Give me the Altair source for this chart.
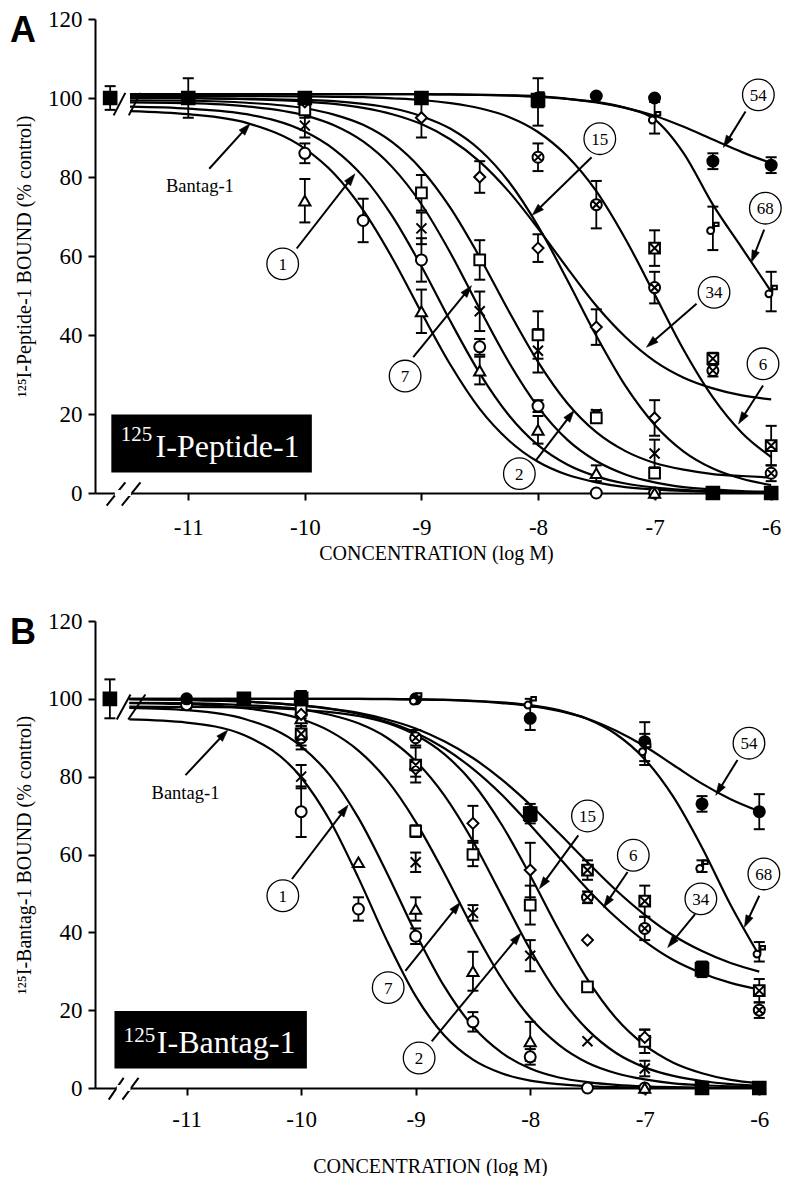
import math
import altair as alt
import pandas as pd

FONT = "Liberation Serif"
XMIN, XMAX = -11.8, -5.95
YMIN, YMAX = 0, 120

# ---------------- fitted curves ----------------
CURVE_X = [-11.5, -11, -10.5, -10, -9.75, -9.5, -9.25, -9, -8.75, -8.5,
           -8.25, -8, -7.75, -7.5, -7.25, -7, -6.75, -6.5, -6.25, -6]

A_CURVES = {
    "Bantag-1": [96.7, 95.9, 93.7, 87.2, 80.9, 71.6, 59.5, 45.7, 32.4, 21.3, 13.3, 7.9, 4.6, 2.7, 1.5, 0.9, 0.5, 0.3, 0.2, 0.1],
    "1": [97.8, 97.3, 95.9, 91.5, 87.0, 80.1, 70.1, 57.4, 43.4, 30.3, 19.7, 12.1, 7.2, 4.2, 2.4, 1.4, 0.8, 0.4, 0.2, 0.1],
    "7": [98.9, 98.7, 97.9, 95.6, 93.1, 89.0, 82.5, 73.1, 60.7, 46.6, 33.1, 21.8, 13.5, 8.1, 4.7, 2.7, 1.5, 0.9, 0.5, 0.3],
    "2": [99.4, 99.3, 98.8, 97.4, 95.8, 93.2, 88.8, 81.9, 72.1, 59.7, 46.0, 33.2, 22.8, 15.4, 10.6, 7.6, 5.9, 4.8, 4.3, 3.9],
    "15": [100, 100, 99.8, 99.5, 99.2, 98.5, 97.4, 95.4, 92.2, 86.9, 78.8, 67.6, 54.0, 39.8, 27.1, 17.3, 10.5, 6.2, 3.6, 2.0],
    "34": [100, 99.9, 99.7, 99.1, 98.5, 97.5, 95.9, 93.4, 89.5, 83.9, 76.3, 67.0, 57.0, 47.4, 39.5, 33.4, 29.2, 26.5, 24.7, 23.7],
    "6": [100.5, 100.5, 100.5, 100.4, 100.3, 100.2, 99.9, 99.5, 98.7, 97.4, 95.2, 91.4, 85.3, 76.4, 64.3, 50.3, 36.2, 24.2, 15.2, 9.1],
    "68": [101, 101, 101, 101, 101, 101, 101, 101, 100.9, 100.8, 100.7, 100.5, 99.8, 99.0, 97.5, 94.6, 86.0, 73.0, 62.0, 51.0],
    "54": [101, 101, 101, 101, 101, 101, 101, 101, 100.9, 100.8, 100.6, 100.3, 99.8, 98.9, 97.5, 95.5, 92.7, 89.5, 86.3, 83.5],
}

B_CURVES = {
    "Bantag-1": [94.7, 93.9, 90.7, 79.8, 68.8, 54.0, 37.8, 23.6, 13.5, 7.3, 3.8, 1.9, 1.0, 0.5, 0.2, 0.1, 0, 0, 0, 0],
    "1": [97.7, 97.1, 94.9, 87.8, 80.4, 69.4, 55.2, 39.8, 26.1, 15.8, 9.1, 5.0, 2.7, 1.5, 0.8, 0.4, 0.2, 0.1, 0, 0],
    "7": [98.9, 98.6, 97.6, 94.8, 91.7, 86.7, 79.1, 68.4, 55.2, 41.0, 28.2, 18.1, 11.1, 6.5, 3.8, 2.2, 1.2, 0.7, 0.4, 0.2],
    "2": [99, 98.9, 98.4, 97.3, 95.9, 93.7, 90.0, 84.0, 75.2, 63.4, 49.5, 35.6, 23.8, 15.0, 9.0, 5.3, 3.1, 1.8, 1.0, 0.6],
    "15": [98, 97.9, 97.8, 97.2, 96.6, 95.6, 93.8, 90.7, 85.8, 78.3, 67.7, 54.6, 40.6, 27.9, 17.9, 11.0, 6.5, 3.8, 2.1, 1.2],
    "6": [99.9, 99.7, 99.3, 98.3, 97.5, 96.4, 94.7, 92.4, 89.1, 84.8, 79.3, 72.8, 65.5, 58.0, 50.8, 44.5, 39.2, 35.2, 32.1, 29.9],
    "34": [99.9, 99.7, 99.3, 98.3, 97.4, 96.1, 94.1, 91.3, 87.3, 82.0, 75.4, 67.6, 59.3, 51.1, 43.8, 37.7, 32.9, 29.5, 27.0, 25.3],
    "54": [100, 100, 100, 100, 100, 100, 99.9, 99.8, 99.7, 99.4, 98.9, 98.2, 96.9, 94.9, 91.8, 87.8, 83.0, 78.2, 74.2, 71.1],
    "68": [100, 100, 100, 100, 100, 100, 100, 99.9, 99.8, 99.5, 99.1, 98.4, 97.1, 94.8, 90.9, 84.5, 74.8, 61.8, 47.0, 34.0],
}

# ---------------- measured points: (x, y, sem) ----------------
A_POINTS = {
    "circle": ([-10, -9.5, -9, -8.5, -8, -7.5, -7, -6.5, -6], [86, 69, 59, 37, 22, 0, 0, 0, 0], [2.5, 5.5, 5.5, 2, 1.5, 0, 0, 0, 0]),
    "triangle": ([-10, -9, -8.5, -8, -7.5, -7, -6.5, -6], [74, 46, 31, 16, 5, 0, 0, 0], [5.5, 5.5, 3.5, 3.5, 2, 0, 0, 0]),
    "cross": ([-10, -9, -8.5, -8, -7.5, -7, -6.5, -6], [93, 67, 46, 36, 20, 10, 0, 0], [3, 4, 5, 5.5, 1, 3.5, 0, 0]),
    "square": ([-10, -9, -8.5, -8, -7.5, -7, -6.5, -6], [97, 76, 59, 40, 19, 5, 0, 0], [2, 4.5, 5, 6, 1, 1, 0, 0]),
    "diamond": ([-10, -9, -8.5, -8, -7.5, -7, -6.5, -6], [99, 95, 80, 62, 42, 19, 0, 0], [1, 5, 4, 3.5, 4.5, 4.5, 0, 0]),
    "ocross": ([-10, -9, -8, -7.5, -7, -6.5, -6], [100, 100, 85, 73, 52, 31, 5], [0, 0, 3.5, 6, 4, 1.5, 2]),
    "bcross": ([-10, -9, -8, -7, -6.5, -6], [100, 100, 99, 62, 34, 12], [0, 0, 6, 4.5, 1.5, 5]),
    "dot": ([-10, -9, -8, -7.5, -7, -6.5, -6], [100, 100, 100, 100.5, 100, 84, 83], [0, 0, 0, 0, 0, 2, 2]),
    "hook": ([-10, -9, -8, -7, -6.5, -6], [100, 100, 100, 95, 67, 51], [0, 0, 0, 4, 5.5, 5]),
    "blob": ([-11.67, -11, -10, -9, -8, -6.5, -6], [100, 100, 100, 100, 99.5, 0, 0], [3, 5, 0, 0, 0, 0, 0]),
}

B_POINTS = {
    "circle": ([-11, -10, -9.5, -9, -8.5, -8, -7.5, -7, -6.5, -6], [98.5, 71, 46, 39, 17, 8, 0, 0, 0, 0], [1, 6.5, 3, 2, 2.5, 2, 0, 0, 0, 0]),
    "triangle": ([-10, -9.5, -9, -8.5, -8, -7, -6.5, -6], [95, 58, 46, 30, 12, 0, 0, 0], [2, 0, 3, 5, 5, 0, 0, 0]),
    "cross": ([-10, -9, -8.5, -8, -7.5, -7, -6.5, -6], [80, 58, 45, 34, 12, 5, 0, 0], [3, 2.5, 2, 4, 0, 2, 0, 0]),
    "square": ([-10, -9, -8.5, -8, -7.5, -7, -6.5, -6], [97, 66, 60, 47, 26, 12, 0, 0], [2, 1.5, 3, 5, 0, 3, 0, 0]),
    "diamond": ([-10, -9, -8.5, -8, -7.5, -7, -6.5, -6], [96, 82, 68, 56, 38, 13, 0, 0], [2, 2, 4.5, 7, 0, 2, 0, 0]),
    "ocross": ([-10, -9, -8, -7.5, -7, -6.5, -6], [90, 90, 71, 49, 41, 30, 20], [3, 2, 2, 1.5, 3, 1.5, 2]),
    "bcross": ([-10, -9, -8, -7.5, -7, -6.5, -6], [91, 83, 70, 56, 48, 31, 25], [3, 4.5, 2, 2.5, 4, 1.5, 3]),
    "dot": ([-11, -10.5, -10, -9, -8, -7, -6.5, -6], [100, 100, 100.5, 100, 95, 89, 73, 71], [0, 0, 1.5, 0.5, 3, 5, 2, 4.5]),
    "hook": ([-10, -9, -8, -7, -6.5, -6], [100, 100, 99, 87, 57, 35], [0, 0, 1, 4, 1.5, 2.5]),
    "blob": ([-11.67, -10.5, -10, -8, -6.5, -6.5, -6], [100, 100, 100, 70.5, 30.5, 0, 0], [5, 0, 2, 0, 1.5, 0, 0]),
}

# ---------------- annotations: label, circle centre, arrow tail, arrow tip ----------------
A_LABELS = [
    ("1", -10.19, 58.0, -10.07, 61.9, -9.57, 80.8),
    ("7", -9.14, 29.6, -9.07, 34.4, -8.57, 52.5),
    ("2", -8.16, 4.9, -8.02, 8.2, -7.69, 20.9),
    ("15", -7.47, 89.7, -7.54, 85.0, -8.05, 70.3),
    ("34", -6.49, 50.8, -6.64, 47.9, -7.07, 36.9),
    ("6", -6.07, 32.7, -6.07, 27.2, -6.28, 17.5),
    ("54", -6.11, 100.8, -6.22, 96.6, -6.41, 87.5),
    ("68", -6.05, 72.1, -6.06, 66.7, -6.17, 58.4),
]
A_BANTAG = ("Bantag-1", -10.90, 77.6, -10.82, 82.1, -10.47, 93.5)

B_LABELS = [
    ("1", -10.16, 49.4, -10.08, 53.7, -9.59, 72.7),
    ("7", -9.24, 25.8, -9.09, 30.1, -8.61, 47.7),
    ("2", -8.97, 7.7, -8.86, 12.0, -8.08, 39.8),
    ("15", -7.50, 69.9, -7.58, 64.9, -7.92, 51.2),
    ("6", -7.10, 59.8, -7.15, 55.5, -7.36, 46.4),
    ("34", -6.51, 48.6, -6.56, 44.7, -6.80, 36.1),
    ("54", -6.09, 88.6, -6.19, 84.3, -6.38, 75.2),
    ("68", -5.96, 55.0, -6.00, 49.4, -6.13, 41.3),
]
B_BANTAG = ("Bantag-1", -11.01, 75.7, -11.01, 80.4, -10.64, 92.0)

# black boxes: rect (x1, x2, y1, y2), superscript (x, y), main text (x, y)
A_BOX = ((-11.66, -9.94, 5.2, 19.9), ("125", -11.58, 14.8), ("I-Peptide-1", -11.28, 9.1))
B_BOX = ((-11.63, -9.95, 5.0, 19.8), ("125", -11.55, 13.3), ("I-Bantag-1", -11.26, 9.0))

# axis-break slashes (x1, y1, x2, y2) and white gap on the x axis
A_SLASHES = [(-11.70, -3.2, -11.54, 2.7), (-11.57, -3.2, -11.41, 2.7),
             (-11.64, 95.6, -11.54, 101.3), (-11.51, 95.6, -11.41, 101.3)]
A_GAP = (-11.63, -11.49)
B_SLASHES = [(-11.68, -3.0, -11.55, 2.6), (-11.56, -3.0, -11.42, 2.6),
             (-11.61, 94.7, -11.49, 101.1), (-11.51, 94.7, -11.36, 101.1)]
B_GAP = (-11.61, -11.49)

SHAPES = {
    "circle": "circle",
    "triangle": "triangle-up",
    "cross": "M-1,-1L1,1M1,-1L-1,1",
    "square": "square",
    "diamond": "diamond",
    "ocross": "M-1,0A1,1,0,1,1,1,0A1,1,0,1,1,-1,0Z M-0.7,-0.7L0.7,0.7 M0.7,-0.7L-0.7,0.7",
    "bcross": "M-1,-1L1,-1L1,1L-1,1Z M-1,-1L1,1 M1,-1L-1,1",
    "dot": "circle",
    "hook": "M-1,0.4A0.6,0.6,0,1,1,0.2,0.4A0.6,0.6,0,1,1,-1,0.4Z M0.2,0.4L0.2,-1L1,-1L1,-0.4L0.2,-0.4",
    "blob": "square",
}
FILLS = {"dot": "black", "blob": "black"}
SIZES = {"blob": 160, "cross": 100, "triangle": 125, "circle": 121, "square": 115,
         "diamond": 121, "ocross": 121, "bcross": 115, "dot": 121, "hook": 130}
ARROW = "M0,0L0.55,1.7L-0.55,1.7Z"


def build_panel(curves, points, labels, bantag, box, slashes, gap, letter, ytitle,
                width, height, xlabpad, xtitlepad):
    sx = width / (XMAX - XMIN)
    sy = height / (YMAX - YMIN)
    xs = alt.Scale(domain=[XMIN, XMAX], nice=False, zero=False)
    ys = alt.Scale(domain=[YMIN, YMAX], nice=False, zero=False)
    common = dict(labelFont=FONT, labelFontSize=23, labelColor="black", titleFont=FONT,
                  titleFontWeight="normal", titleColor="black", tickColor="black",
                  domainColor="black", tickWidth=2, domainWidth=2, tickSize=7, grid=False,
                  labelFlush=False)
    xaxis = alt.Axis(values=[-11, -10, -9, -8, -7, -6], labelExpr="'-' + toString(abs(datum.value))",
                     title="CONCENTRATION (log M)", titleFontSize=20, labelPadding=xlabpad,
                     titlePadding=xtitlepad, **common)
    yaxis = alt.Axis(values=[0, 20, 40, 60, 80, 100, 120], format="d", title=ytitle,
                     titleFontSize=20, labelPadding=6, titlePadding=13, **common)

    def X(f="x"):
        return alt.X(f"{f}:Q", scale=xs, axis=xaxis)

    def Y(f="y"):
        return alt.Y(f"{f}:Q", scale=ys, axis=yaxis)

    crows = []
    for name, ys_ in curves.items():
        for xv, yv in zip(CURVE_X, ys_):
            crows.append({"curve": name, "x": xv, "y": yv})
    cdf = pd.DataFrame(crows)

    prows = []
    for kind, (xx, yy, ee) in points.items():
        for xv, yv, ev in zip(xx, yy, ee):
            prows.append({"kind": kind, "x": xv, "y": yv, "err": ev,
                          "lo": yv - ev, "hi": yv + ev,
                          "shp": SHAPES[kind], "fillc": FILLS.get(kind, "white"),
                          "sz": SIZES.get(kind, 110)})
    pdf = pd.DataFrame(prows)
    edf = pdf[pdf["err"] > 0]
    caps = pd.concat([edf.assign(cy=edf["lo"]), edf.assign(cy=edf["hi"])])[["x", "cy"]]

    arows = []
    for lab, cx, cy, tx, ty, hx, hy in list(labels) + [bantag]:
        dxp = (hx - tx) * sx
        dyp = -(hy - ty) * sy
        L = math.hypot(dxp, dyp)
        ang = math.degrees(math.atan2(dxp, -dyp)) % 360
        k = 10.0 / L
        arows.append({"lab": lab, "cx": cx, "cy": cy, "x": tx, "y": ty,
                      "hx": hx, "hy": hy, "ex": hx - (hx - tx) * k, "ey": hy - (hy - ty) * k,
                      "ang": ang})
    adf = pd.DataFrame(arows)
    ldf = adf[adf["lab"] != "Bantag-1"]
    bdf = adf[adf["lab"] == "Bantag-1"]

    sdf = pd.DataFrame([{"x": a, "y": b, "x2": c, "y2": d} for a, b, c, d in slashes])
    gdf = pd.DataFrame([{"x": gap[0], "x2": gap[1], "y": 0, "y2": 0}])
    (rx1, rx2, ry1, ry2), (sup, supx, supy), (main, mx, my) = box
    rdf = pd.DataFrame([{"x": rx1, "x2": rx2, "y": ry1, "y2": ry2}])
    supdf = pd.DataFrame([{"t": sup, "x": supx, "y": supy}])
    maindf = pd.DataFrame([{"t": main, "x": mx, "y": my}])
    letdf = pd.DataFrame([{"t": letter}])

    layers = [
        alt.Chart(cdf).mark_line(color="black", strokeWidth=2.2, interpolate="monotone")
        .encode(x=X(), y=Y(), detail="curve:N"),
        alt.Chart(edf).mark_rule(color="black", strokeWidth=1.8)
        .encode(x=X(), y=Y("lo"), y2=alt.Y2("hi:Q")),
        alt.Chart(caps).mark_tick(orient="horizontal", size=11, thickness=2, color="black", opacity=1)
        .encode(x=X(), y=Y("cy")),
        alt.Chart(pdf).mark_point(filled=True, stroke="black", strokeWidth=2, opacity=1)
        .encode(x=X(), y=Y(), shape=alt.Shape("shp:N", scale=None),
                fill=alt.Fill("fillc:N", scale=None), size=alt.Size("sz:Q", scale=None)),
        alt.Chart(sdf).mark_rule(color="black", strokeWidth=2)
        .encode(x=X(), y=Y(), x2=alt.X2("x2:Q"), y2=alt.Y2("y2:Q")),
        alt.Chart(gdf).mark_rule(color="white", strokeWidth=6)
        .encode(x=X(), y=Y(), x2=alt.X2("x2:Q"), y2=alt.Y2("y2:Q")),
        alt.Chart(rdf).mark_rect(color="black")
        .encode(x=X(), y=Y(), x2=alt.X2("x2:Q"), y2=alt.Y2("y2:Q")),
        alt.Chart(supdf).mark_text(font=FONT, fontSize=21, color="white", align="left", baseline="middle")
        .encode(x=X(), y=Y(), text="t:N"),
        alt.Chart(maindf).mark_text(font=FONT, fontSize=32, color="white", align="left", baseline="alphabetic")
        .encode(x=X(), y=Y(), text="t:N"),
        alt.Chart(adf).mark_rule(color="black", strokeWidth=2)
        .encode(x=X(), y=Y(), x2=alt.X2("ex:Q"), y2=alt.Y2("ey:Q")),
        alt.Chart(adf).mark_point(shape=ARROW, size=200, filled=True, fill="black", stroke="black",
                                  strokeWidth=0.5, opacity=1)
        .encode(x=X("hx"), y=Y("hy"), angle=alt.Angle("ang:Q", scale=None)),
        alt.Chart(ldf).mark_point(shape="circle", size=1000, filled=True, fill="white", stroke="black",
                                  strokeWidth=1.3, opacity=1)
        .encode(x=X("cx"), y=Y("cy")),
        alt.Chart(ldf).mark_text(font=FONT, fontSize=17, color="black", baseline="middle", dy=1)
        .encode(x=X("cx"), y=Y("cy"), text="lab:N"),
        alt.Chart(bdf).mark_text(font=FONT, fontSize=18.5, color="black", baseline="middle")
        .encode(x=X("cx"), y=Y("cy"), text="lab:N"),
        alt.Chart(letdf).mark_text(font="Liberation Sans", fontSize=36, fontWeight="bold",
                                   color="black", align="left", baseline="top")
        .encode(x=alt.value(-85), y=alt.value(-5.5), text="t:N"),
    ]
    return alt.layer(*layers).properties(width=width, height=height)


panel_a = build_panel(A_CURVES, A_POINTS, A_LABELS, A_BANTAG, A_BOX, A_SLASHES, A_GAP, "A",
                      "\u00b9\u00b2\u2075I-Peptide-1 BOUND (% control)", 682, 474, 16.5, 4)
panel_b = build_panel(B_CURVES, B_POINTS, B_LABELS, B_BANTAG, B_BOX, B_SLASHES, B_GAP, "B",
                      "\u00b9\u00b2\u2075I-Bantag-1 BOUND (% control)", 670, 467, 13, 25)

chart = (
    alt.vconcat(panel_a, panel_b, spacing=46)
    .properties(padding={"left": 2, "top": 0, "right": 0, "bottom": 0})
    .configure_view(stroke=None)
)

chart.save("out.html", embed_options={"renderer": "svg", "actions": False})
